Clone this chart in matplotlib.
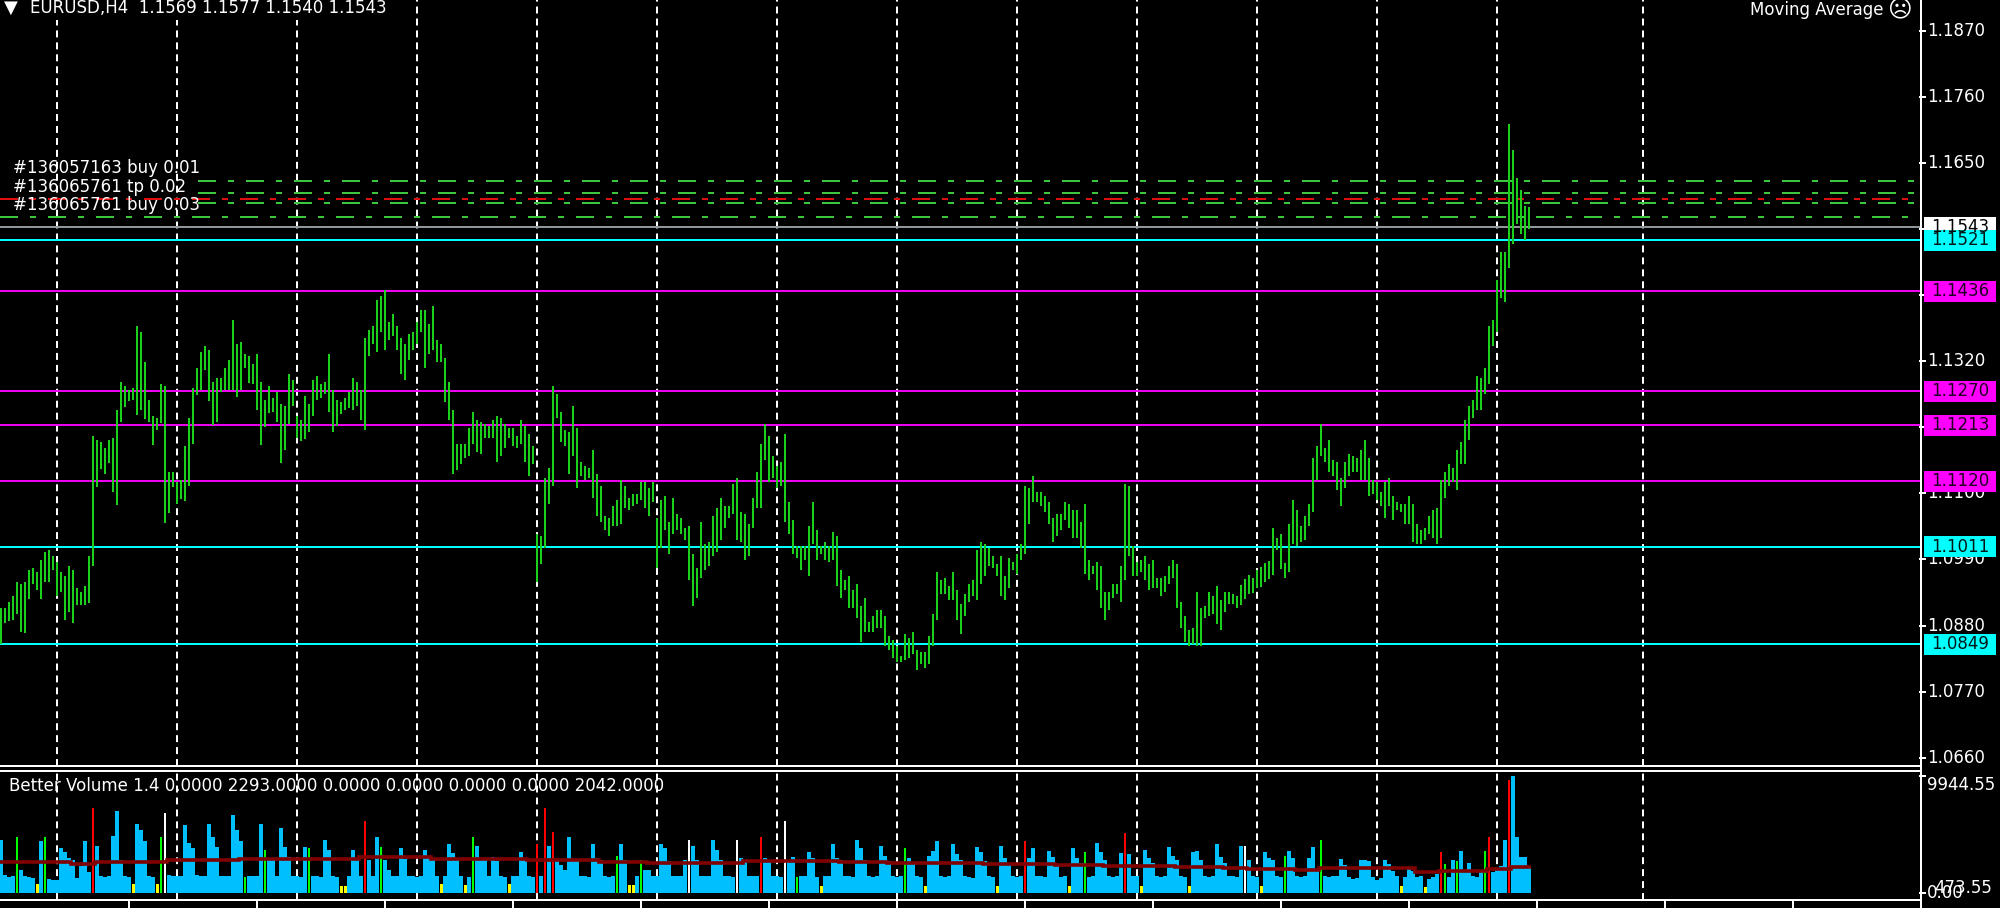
import numpy as np
import matplotlib
matplotlib.use("Agg")
import matplotlib.pyplot as plt
from matplotlib.patches import Rectangle
from matplotlib.lines import Line2D

# ---- data (EURUSD H4) ----
highs = [
    1.0909, 1.0909, 1.0920, 1.0929, 1.0953, 1.0949, 1.0953, 1.0972, 1.0976, 1.0969,
    1.0989, 1.1002, 1.1006, 1.0996, 1.0986, 1.0969, 1.0962, 1.0979, 1.0972, 1.0943,
    1.0936, 1.0946, 1.0996, 1.1196, 1.1189, 1.1186, 1.1176, 1.1189, 1.1192, 1.1239,
    1.1285, 1.1279, 1.1272, 1.1275, 1.1379, 1.1369, 1.1319, 1.1255, 1.1229, 1.1225,
    1.1282, 1.1279, 1.1136, 1.1136, 1.1119, 1.1122, 1.1179, 1.1225, 1.1275, 1.1309,
    1.1335, 1.1345, 1.1339, 1.1285, 1.1292, 1.1292, 1.1309, 1.1322, 1.1389, 1.1349,
    1.1352, 1.1332, 1.1329, 1.1315, 1.1332, 1.1285, 1.1255, 1.1279, 1.1259, 1.1269,
    1.1249, 1.1245, 1.1299, 1.1289, 1.1229, 1.1222, 1.1262, 1.1249, 1.1289, 1.1295,
    1.1282, 1.1285, 1.1332, 1.1272, 1.1256, 1.1252, 1.1259, 1.1269, 1.1292, 1.1285,
    1.1272, 1.1359, 1.1372, 1.1379, 1.1422, 1.1429, 1.1439, 1.1385, 1.1399, 1.1379,
    1.1359, 1.1349, 1.1365, 1.1369, 1.1385, 1.1405, 1.1405, 1.1382, 1.1412, 1.1355,
    1.1349, 1.1325, 1.1285, 1.1239, 1.1182, 1.1182, 1.1182, 1.1209, 1.1235, 1.1222,
    1.1219, 1.1216, 1.1212, 1.1222, 1.1229, 1.1226, 1.1216, 1.1209, 1.1209, 1.1196,
    1.1222, 1.1212, 1.1199, 1.1179, 1.1033, 1.1029, 1.1126, 1.1142, 1.1279, 1.1265,
    1.1235, 1.1206, 1.1202, 1.1246, 1.1209, 1.1152, 1.1146, 1.1142, 1.1172, 1.1132,
    1.1112, 1.1062, 1.1059, 1.1079, 1.1089, 1.1122, 1.1112, 1.1092, 1.1099, 1.1099,
    1.1119, 1.1119, 1.1109, 1.1119, 1.1059, 1.1089, 1.1096, 1.1052, 1.1092, 1.1066,
    1.1059, 1.1042, 1.1046, 1.0999, 1.0976, 1.1052, 1.1016, 1.1019, 1.1062, 1.1076,
    1.1092, 1.1079, 1.1079, 1.1116, 1.1126, 1.1069, 1.1066, 1.1049, 1.1092, 1.1136,
    1.1182, 1.1215, 1.1196, 1.1162, 1.1146, 1.1152, 1.1199, 1.1086, 1.1056, 1.1012,
    1.1012, 1.1012, 1.1046, 1.1086, 1.1039, 1.1012, 1.1019, 1.1012, 1.1036, 1.1029,
    1.0973, 1.0956, 1.0963, 1.0939, 1.0949, 1.0913, 1.0926, 1.0886, 1.0896, 1.0906,
    1.0906, 1.0896, 1.0863, 1.0856, 1.0846, 1.0829, 1.0866, 1.0859, 1.0869, 1.0839,
    1.0836, 1.0836, 1.0863, 1.0899, 1.0969, 1.0956, 1.0959, 1.0946, 1.0969, 1.0939,
    1.0916, 1.0933, 1.0949, 1.0956, 1.1006, 1.1019, 1.1016, 1.1009, 1.0996, 1.0983,
    1.0996, 1.0963, 1.0992, 1.0986, 1.0999, 1.1016, 1.1112, 1.1109, 1.1129, 1.1102,
    1.1102, 1.1096, 1.1086, 1.1059, 1.1066, 1.1066, 1.1086, 1.1082, 1.1072, 1.1072,
    1.1052, 1.1082, 1.0989, 1.0979, 1.0986, 1.0979, 1.0936, 1.0936, 1.0949, 1.0949,
    1.0979, 1.1116, 1.1112, 1.1012, 1.0986, 1.0989, 1.0996, 1.0983, 1.0989, 1.0959,
    1.0959, 1.0963, 1.0979, 1.0989, 1.0983, 1.0919, 1.0896, 1.0873, 1.0876, 1.0936,
    1.0909, 1.0913, 1.0936, 1.0929, 1.0946, 1.0923, 1.0936, 1.0936, 1.0933, 1.0929,
    1.0948, 1.0958, 1.0965, 1.0960, 1.0972, 1.0978, 1.0985, 1.0988, 1.1042, 1.1026,
    1.1032, 1.0985, 1.1049, 1.1089, 1.1072, 1.1046, 1.1062, 1.1082, 1.1159, 1.1179,
    1.1216, 1.1176, 1.1189, 1.1156, 1.1152, 1.1126, 1.1152, 1.1166, 1.1162, 1.1159,
    1.1172, 1.1189, 1.1159, 1.1122, 1.1119, 1.1102, 1.1119, 1.1126, 1.1096, 1.1086,
    1.1082, 1.1082, 1.1096, 1.1082, 1.1049, 1.1039, 1.1042, 1.1062, 1.1072, 1.1076,
    1.1122, 1.1136, 1.1149, 1.1142, 1.1172, 1.1186, 1.1222, 1.1246, 1.1256, 1.1295,
    1.1292, 1.1309, 1.1379, 1.1389, 1.1455, 1.1502, 1.1502, 1.1715, 1.1672, 1.1625,
    1.1605, 1.1578, 1.1577,
]
lows = [
    1.0850, 1.0884, 1.0887, 1.0889, 1.0900, 1.0870, 1.0867, 1.0924, 1.0950, 1.0940,
    1.0924, 1.0953, 1.0953, 1.0972, 1.0930, 1.0936, 1.0890, 1.0903, 1.0884, 1.0914,
    1.0914, 1.0914, 1.0917, 1.0980, 1.1110, 1.1140, 1.1133, 1.1150, 1.1103, 1.1080,
    1.1219, 1.1243, 1.1253, 1.1255, 1.1230, 1.1239, 1.1223, 1.1219, 1.1180, 1.1206,
    1.1217, 1.1050, 1.1067, 1.1110, 1.1083, 1.1090, 1.1087, 1.1113, 1.1183, 1.1263,
    1.1272, 1.1305, 1.1253, 1.1213, 1.1219, 1.1269, 1.1272, 1.1272, 1.1272, 1.1260,
    1.1272, 1.1309, 1.1283, 1.1282, 1.1239, 1.1180, 1.1210, 1.1233, 1.1235, 1.1219,
    1.1150, 1.1173, 1.1215, 1.1245, 1.1192, 1.1187, 1.1190, 1.1202, 1.1229, 1.1256,
    1.1259, 1.1265, 1.1235, 1.1202, 1.1212, 1.1232, 1.1239, 1.1242, 1.1239, 1.1246,
    1.1222, 1.1206, 1.1329, 1.1349, 1.1335, 1.1369, 1.1339, 1.1355, 1.1362, 1.1339,
    1.1299, 1.1289, 1.1322, 1.1339, 1.1349, 1.1369, 1.1309, 1.1332, 1.1339, 1.1319,
    1.1319, 1.1252, 1.1222, 1.1132, 1.1139, 1.1149, 1.1159, 1.1162, 1.1182, 1.1169,
    1.1166, 1.1192, 1.1192, 1.1192, 1.1152, 1.1162, 1.1176, 1.1192, 1.1179, 1.1176,
    1.1182, 1.1152, 1.1129, 1.1149, 1.0952, 1.0983, 1.1009, 1.1082, 1.1112, 1.1226,
    1.1186, 1.1179, 1.1132, 1.1162, 1.1109, 1.1129, 1.1122, 1.1126, 1.1092, 1.1062,
    1.1052, 1.1039, 1.1029, 1.1046, 1.1046, 1.1049, 1.1076, 1.1072, 1.1079, 1.1082,
    1.1089, 1.1076, 1.1062, 1.1086, 1.0976, 1.1009, 1.1039, 1.0999, 1.1032, 1.1039,
    1.1032, 1.1022, 1.0956, 1.0913, 1.0926, 1.0959, 1.0973, 1.0979, 1.0996, 1.1003,
    1.1022, 1.1042, 1.1059, 1.1066, 1.1022, 1.1019, 1.0989, 1.0996, 1.1042, 1.1076,
    1.1076, 1.1156, 1.1119, 1.1126, 1.1109, 1.1112, 1.1052, 1.1032, 1.0999, 1.0993,
    1.0973, 1.0989, 1.0963, 1.1016, 1.0989, 1.0999, 1.0989, 1.0986, 1.0989, 1.0946,
    1.0926, 1.0939, 1.0909, 1.0909, 1.0893, 1.0853, 1.0869, 1.0869, 1.0869, 1.0876,
    1.0876, 1.0846, 1.0839, 1.0826, 1.0819, 1.0819, 1.0823, 1.0826, 1.0833, 1.0806,
    1.0816, 1.0809, 1.0816, 1.0846, 1.0889, 1.0933, 1.0933, 1.0923, 1.0923, 1.0889,
    1.0866, 1.0896, 1.0919, 1.0929, 1.0923, 1.0949, 1.0963, 1.0979, 1.0976, 1.0963,
    1.0929, 1.0923, 1.0943, 1.0973, 1.0966, 1.0989, 1.0999, 1.1049, 1.1086, 1.1086,
    1.1079, 1.1069, 1.1049, 1.1019, 1.1029, 1.1039, 1.1056, 1.1042, 1.1026, 1.1026,
    1.1009, 1.0966, 1.0956, 1.0966, 1.0939, 1.0909, 1.0889, 1.0906, 1.0926, 1.0933,
    1.0919, 1.0956, 1.0996, 1.0963, 1.0963, 1.0969, 1.0956, 1.0939, 1.0943, 1.0943,
    1.0929, 1.0936, 1.0949, 1.0959, 1.0909, 1.0876, 1.0853, 1.0846, 1.0849, 1.0846,
    1.0846, 1.0893, 1.0896, 1.0899, 1.0883, 1.0873, 1.0903, 1.0916, 1.0916, 1.0909,
    1.0915, 1.0925, 1.0932, 1.0935, 1.0942, 1.0945, 1.0952, 1.0958, 1.0965, 1.1006,
    1.0975, 1.0960, 1.0970, 1.1016, 1.1012, 1.1019, 1.1022, 1.1046, 1.1069, 1.1122,
    1.1162, 1.1152, 1.1136, 1.1129, 1.1106, 1.1079, 1.1109, 1.1129, 1.1136, 1.1136,
    1.1122, 1.1122, 1.1096, 1.1099, 1.1089, 1.1079, 1.1059, 1.1079, 1.1056, 1.1072,
    1.1069, 1.1049, 1.1049, 1.1019, 1.1016, 1.1016, 1.1022, 1.1032, 1.1026, 1.1016,
    1.1026, 1.1092, 1.1112, 1.1119, 1.1106, 1.1149, 1.1149, 1.1189, 1.1226, 1.1239,
    1.1239, 1.1266, 1.1282, 1.1345, 1.1369, 1.1425, 1.1419, 1.1475, 1.1515, 1.1548,
    1.1532, 1.1522, 1.1540,
]

volume = [
    4500, 1550, 1400, 1500, 4800, 2000, 1500, 1400, 1300, 800,
    4400, 4800, 1200, 1100, 1150, 3800, 3500, 3000, 2800, 1300,
    2300, 4400, 1800, 7200, 4000, 1500, 1400, 1500, 4900, 7000,
    2800, 1500, 1400, 800, 5900, 5400, 4400, 1500, 1400, 750,
    4800, 6800, 1550, 1500, 1450, 1500, 5800, 4300, 3800, 1550,
    1500, 1450, 5900, 4800, 3900, 1500, 1450, 1500, 6600, 5400,
    4400, 1350, 1500, 1450, 1500, 5900, 3700, 2800, 2800, 1500,
    5500, 3950, 3100, 1500, 1450, 1400, 3950, 3800, 1500, 1450,
    1400, 4500, 3700, 1450, 1400, 600, 600, 1500, 3700, 2800,
    1500, 6100, 2800, 1500, 4800, 3950, 2800, 2000, 1500, 1450,
    3800, 2900, 1500, 1450, 1400, 1500, 3700, 3100, 2800, 1500,
    750, 1450, 4200, 3400, 2800, 1500, 700, 1400, 4800, 4000,
    2800, 2800, 1500, 3100, 2700, 1500, 1400, 800, 1450, 1500,
    3500, 2800, 1500, 1400, 4200, 1500, 7200, 4000, 5200, 2800,
    2400, 2000, 4800, 2900, 2800, 1500, 1450, 1400, 4200, 3000,
    2800, 1500, 1400, 1450, 3200, 4200, 2800, 700, 700, 1500,
    2800, 2000, 1950, 1500, 1450, 4200, 3800, 2700, 1500, 1450,
    1500, 2800, 4500, 4000, 2800, 1500, 1450, 1500, 4500, 3700,
    2800, 1500, 1450, 1400, 4500, 3000, 2800, 1500, 1450, 1500,
    4800, 3000, 2800, 1500, 1450, 1400, 6100, 2800, 3100, 1400,
    1500, 1450, 3500, 3000, 1400, 600, 1500, 1450, 4200, 3000,
    2800, 1500, 1450, 1400, 4500, 3800, 2800, 1500, 1400, 1450,
    4000, 3200, 2700, 1500, 1400, 1450, 3800, 3000, 2500, 1500,
    1400, 600, 3200, 3600, 4400, 1500, 1400, 1450, 4200, 3300,
    2800, 1500, 1400, 1300, 3900, 3500, 2700, 1450, 1400, 600,
    4000, 3000, 2500, 1450, 1400, 1500, 4400, 3000, 3800, 1500,
    1450, 1400, 3600, 3100, 2500, 1400, 1450, 600, 3800, 3000,
    2600, 3500, 1400, 1450, 4300, 3500, 2800, 1500, 1400, 1450,
    3400, 5100, 3300, 1500, 1450, 600, 3700, 3000, 2600, 1500,
    1400, 1450, 3900, 3200, 2800, 1450, 1400, 650, 3500, 3600,
    2800, 1450, 1400, 1500, 4200, 3100, 2600, 1500, 1450, 1400,
    4000, 4000, 2800, 1450, 1400, 600, 3500, 3000, 2800, 1450,
    1400, 3200, 3600, 3000, 1500, 1400, 1500, 3000, 3900, 2000,
    4500, 1500, 1400, 1450, 1500, 2950, 2400, 1400, 1200, 1300,
    2800, 2800, 2700, 1350, 1100, 1300, 2800, 2500, 1900, 1500,
    600, 1400, 2200, 1900, 1400, 1450, 500, 1200, 1400, 1600,
    3500, 2500, 1400, 2800, 2700, 3600, 1900, 2600, 1500, 1400,
    2000, 3600, 4800, 1800, 2000, 2300, 4500, 9600, 9944.55, 4800,
    3100, 3100, 2293,
]
vol_red = [23, 91, 134, 136, 138, 190, 256, 281, 360, 372, 377]
vol_green = [4, 11, 40, 61, 66, 77, 95, 118, 154, 160, 199, 226, 271, 321,
             330, 361, 364, 371]
vol_yellow = [9, 33, 39, 85, 86, 110, 116, 127, 157, 158, 205, 231, 249, 267,
              285, 297, 315, 350, 356]
vol_white = [41, 172, 184, 196, 311]

# volume moving average, one value per 6-bar day
vol_ma = [
    2690, 2690, 2690, 2490, 2690, 2690, 2690, 2830, 2830, 2830,
    2880, 2880, 2940, 2940, 2940, 3050, 3050, 3050, 2880, 2880,
    2880, 2880, 2830, 2830, 2830, 2690, 2690, 2540, 2540, 2540,
    2540, 2740, 2740, 2740, 2700, 2650, 2650, 2600, 2600, 2550,
    2550, 2500, 2500, 2450, 2400, 2400, 2350, 2300, 2300, 2250,
    2200, 2150, 2100, 2050, 2000, 2120, 2120, 2120, 2120, 1840,
    1900, 1900, 2040, 2260,
]

levels_cyan = [1.1521, 1.1011, 1.0849]
levels_magenta = [1.1436, 1.1270, 1.1213, 1.1120]
bid = 1.1543
order_levels_green = [1.1620, 1.1600, 1.1584]
order_level_sl = 1.1590
order_level_entry = 1.1560
price_ticks = [1.0660, 1.0770, 1.0880, 1.0990, 1.1100, 1.1210,
               1.1320, 1.1430, 1.1540, 1.1650, 1.1760, 1.1870]
grid_bars = [14, 44, 74, 104, 134, 164, 194, 224, 254, 284, 314, 344, 374, 410.5]
time_tick_bars = [32, 64, 96, 128, 160, 192, 224, 256, 288, 320, 352, 384, 416, 448]

header = "EURUSD,H4  1.1569 1.1577 1.1540 1.1543"
vol_header = "Better Volume 1.4 0.0000 2293.0000 0.0000 0.0000 0.0000 0.0000 2042.0000"
order_labels = ["#136057163 buy 0.01", "#136065761 tp 0.02", "#136065761 buy 0.03"]

# ---- layout (pixels of the 2000x908 picture) ----
W, H = 2000, 908
PX = 1.44          # 2 px line in points at dpi 100
PPU = 6009.0       # pixels per 1.0 of price
PRICE_TOP = 1.19211
VPP = 84.78        # volume units per pixel


def rect(x0, y0, x1, y1):
    return [x0 / W, 1 - y1 / H, (x1 - x0) / W, (y1 - y0) / H]


def fx(x):
    return x / W


def fy(y):
    return 1 - y / H


plt.rcParams["font.family"] = ["DejaVu Sans"]
plt.rcParams["font.size"] = 12
plt.rcParams["lines.scale_dashes"] = False

fig = plt.figure(figsize=(W / 100, H / 100), dpi=100, facecolor="black")

price_ylim = (PRICE_TOP - 766 / PPU, PRICE_TOP)
vol_ylim = (-6.7 * VPP, 9944.55 + 5 * VPP)
xlim = (-0.25, 479.75)

ax = fig.add_axes(rect(0, 0, 1920, 766))
ax.set_axis_off()
ax.set_xlim(*xlim)
ax.set_ylim(*price_ylim)

axv = fig.add_axes(rect(0, 771, 1920, 900))
axv.set_axis_off()
axv.set_xlim(*xlim)
axv.set_ylim(*vol_ylim)

axs = fig.add_axes(rect(1920, 0, 2000, 766))
axs.set_axis_off()
axs.set_xlim(0, 80)
axs.set_ylim(*price_ylim)

axvs = fig.add_axes(rect(1920, 771, 2000, 900))
axvs.set_axis_off()
axvs.set_xlim(0, 80)
axvs.set_ylim(*vol_ylim)

grid_dash = (5.0, 3.6)
for g in grid_bars:
    ax.axvline(g, color="white", lw=PX, dashes=grid_dash, zorder=1)
    axv.axvline(g, color="white", lw=PX, dashes=grid_dash, zorder=1)

# horizontal levels
for lv in levels_cyan:
    ax.axhline(lv, color="#00FFFF", lw=PX, zorder=2)
for lv in levels_magenta:
    ax.axhline(lv, color="#F000F0", lw=PX, zorder=2)
ax.axhline(bid, color="#8E959B", lw=PX, zorder=2)

dashdot = [(0, (12.96, 8.64, 4.32, 8.64))]
ax.hlines(order_levels_green, 49.25, xlim[1], colors="#3CC83C", lw=PX,
          linestyles=dashdot, zorder=2)
ax.hlines([order_level_entry], xlim[0], xlim[1], colors="#3CC83C", lw=PX,
          linestyles=dashdot, zorder=2)
ax.hlines([order_level_sl], xlim[0], xlim[1], colors="#E01010", lw=PX,
          linestyles=dashdot, zorder=2)

# OHLC bars
xb = np.arange(len(highs))
ax.vlines(xb, lows, highs, colors="#1DCF1D", lw=PX, zorder=3)

# volume histogram
vol = np.array(volume, dtype=float)
special = set(vol_red) | set(vol_green) | set(vol_yellow) | set(vol_white)
blue_idx = [i for i in range(len(vol)) if i not in special]
axv.bar(blue_idx, vol[blue_idx], width=1.0, color="#00BFFF", lw=0, zorder=2)
for idx, col, wd in [(vol_red, "#FF0000", 0.55), (vol_green, "#00FF00", 0.55),
                     (vol_yellow, "#FFFF00", 0.75), (vol_white, "#FFFFFF", 0.55)]:
    axv.bar(idx, vol[idx], width=wd, color=col, lw=0, zorder=2)
edges = np.append(np.arange(0, len(vol), 6), len(vol)) - 0.5
axv.stairs(vol_ma, edges, color="#800000", lw=2.6, baseline=None, zorder=3)

# price scale
for p in price_ticks:
    axs.plot([0, 5], [p, p], color="white", lw=PX, clip_on=False)
    axs.text(7, p, f"{p:.4f}", color="white", va="center", ha="left", fontsize=12)

box_h = 21 / PPU


def price_box(p, fc, tc):
    axs.add_patch(Rectangle((4, p - box_h / 2), 72, box_h, fc=fc, ec="none", zorder=5))
    axs.text(40, p, f"{p:.4f}", color=tc, va="center", ha="center", fontsize=12, zorder=6)


price_box(bid, "white", "black")
for lv in levels_cyan:
    price_box(lv, "#00FFFF", "#001818")
for lv in levels_magenta:
    price_box(lv, "#FF00FF", "#200020")

# volume scale
axvs.plot([0, 5], [9944.55, 9944.55], color="white", lw=PX, clip_on=False)
axvs.plot([0, 5], [0, 0], color="white", lw=PX, clip_on=False)
axvs.text(7, 9944.55, "9944.55", color="white", va="top", ha="left", fontsize=12)
axvs.text(14, 473.55, "473.55", color="white", va="center", ha="left", fontsize=12)
axvs.text(7, 0, "0.00", color="white", va="center", ha="left", fontsize=12)

# frame lines
for seg in [([fx(1921), fx(1921)], [fy(0), fy(908)]),
            ([0, fx(1921)], [fy(766), fy(766)]),
            ([0, fx(1921)], [fy(771), fy(771)]),
            ([0, fx(1921)], [fy(900), fy(900)])]:
    fig.add_artist(Line2D(seg[0], seg[1], transform=fig.transFigure,
                          color="white", lw=PX))
axv.vlines(time_tick_bars, -8 / 129, 0, transform=axv.get_xaxis_transform(),
           colors="white", lw=PX, clip_on=False)

# texts
fig.text(fx(4), fy(8), "\u25BC", color="white", va="center", ha="left", fontsize=13,
         bbox=dict(fc="black", ec="none", pad=2))
fig.text(fx(30), fy(8), header, color="white", va="center", ha="left", fontsize=12,
         bbox=dict(fc="black", ec="none", pad=2))
fig.text(fx(1884), fy(10), "Moving Average", color="white", va="center", ha="right",
         fontsize=12)
fig.text(fx(1899), fy(10), "\u2639", color="white", va="center", ha="center", fontsize=17)
for lab, yy in zip(order_labels, [168, 187, 205]):
    fig.text(fx(13), fy(yy), lab, color="white", va="center", ha="left", fontsize=12)
fig.text(fx(9), fy(786), vol_header, color="white", va="center", ha="left", fontsize=12)

fig.savefig("out.png", dpi=100, facecolor="black")
